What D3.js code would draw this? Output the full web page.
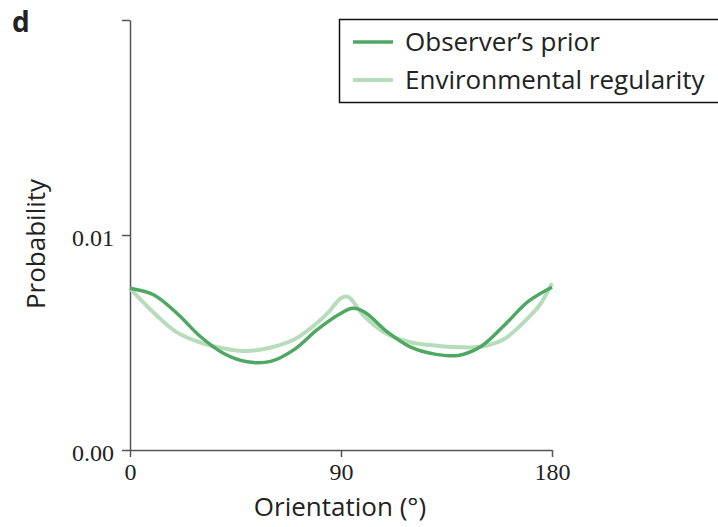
<!DOCTYPE html>
<html>
<head>
<meta charset="utf-8">
<title>Orientation prior</title>
<style>
  body { margin: 0; background: #fff; }
  svg text { fill: #222; }
</style>
</head>
<body>
<script src="https://cdn.jsdelivr.net/npm/d3@7/dist/d3.min.js"></script>
<script>
// values
var priorAngle = [0, 10, 20, 30, 40, 50, 60, 70, 80, 90, 95, 100, 110, 120, 130, 140, 150, 160, 170, 180];
var priorProb  = [0.00752, 0.00722, 0.00636, 0.00528, 0.00449, 0.00410, 0.00412, 0.00467, 0.00561, 0.00636,
                  0.00659, 0.00642, 0.00547, 0.00477, 0.00446, 0.00440, 0.00484, 0.00584, 0.00692, 0.00757];
var envAngle = [0, 10, 20, 30, 40, 50, 60, 70, 80, 85, 90, 93, 100, 110, 120, 130, 140, 150, 160, 170, 175, 180];
var envProb  = [0.00752, 0.00640, 0.00547, 0.00500, 0.00472, 0.00460, 0.00477, 0.00514, 0.00593, 0.00645,
                0.00706, 0.00712, 0.00621, 0.00537, 0.00500, 0.00486, 0.00478, 0.00481, 0.00519, 0.00617,
                0.00678, 0.00776];
var xTicks = [0, 90, 180];
var yTicks = [0, 0.01, 0.02];
var seriesNames = ["Observer\u2019s prior", "Environmental regularity"];
var seriesColors = ["#4ea863", "#b7dcbb"];

var width = 718, height = 527;
var svg = d3.select("body").append("svg")
  .attr("width", width)
  .attr("height", height);

var x = d3.scaleLinear().domain([0, 180]).range([130, 552]);
var y = d3.scaleLinear().domain([0, 0.02]).range([450, 20]);

// axes
var xAxis = d3.axisBottom(x).tickValues(xTicks).tickSize(7).tickSizeOuter(0).tickPadding(6);
var yAxis = d3.axisLeft(y).tickValues(yTicks).tickSize(8).tickSizeOuter(0).tickPadding(8)
  .tickFormat(function(d) { return d === 0.02 ? "" : d3.format(".2f")(d); });

var gx = svg.append("g").attr("transform", "translate(0,450)").call(xAxis);
var gy = svg.append("g").attr("transform", "translate(130,0)").call(yAxis);

[gx, gy].forEach(function(g) {
  g.selectAll("path, line").attr("stroke", "#555").attr("stroke-width", 1.5);
  g.selectAll("text")
    .attr("font-family", "'Liberation Serif', serif")
    .attr("font-size", 24)
    .attr("fill", "#222");
});
gy.selectAll("text").attr("dy", "0.45em");

// lines
var line = d3.line()
  .x(function(d) { return x(d[0]); })
  .y(function(d) { return y(d[1]); })
  .curve(d3.curveCatmullRom.alpha(0.5));

var envData = envAngle.map(function(a, i) { return [a, envProb[i]]; });
var priorData = priorAngle.map(function(a, i) { return [a, priorProb[i]]; });

svg.append("path").datum(envData)
  .attr("d", line).attr("fill", "none")
  .attr("stroke", seriesColors[1]).attr("stroke-width", 4);
svg.append("path").datum(priorData)
  .attr("d", line).attr("fill", "none")
  .attr("stroke", seriesColors[0]).attr("stroke-width", 3.5);

// axis titles
svg.append("text")
  .attr("x", 340).attr("y", 516)
  .attr("text-anchor", "middle")
  .attr("font-family", "'Open Sans', sans-serif")
  .attr("font-size", 26)
  .text("Orientation (\u00b0)");

svg.append("text")
  .attr("transform", "translate(45,244) rotate(-90)")
  .attr("text-anchor", "middle")
  .attr("font-family", "'Open Sans', sans-serif")
  .attr("font-size", 26)
  .text("Probability");

// panel letter
svg.append("text")
  .attr("x", 12).attr("y", 32)
  .attr("font-family", "'Open Sans', sans-serif")
  .attr("font-weight", "bold")
  .attr("font-size", 28)
  .text("d");

// legend
var legend = svg.append("g");
legend.append("rect")
  .attr("x", 339.5).attr("y", 19.5)
  .attr("width", 400).attr("height", 83)
  .attr("fill", "#fff").attr("stroke", "#111").attr("stroke-width", 1.5);

var items = legend.selectAll("g.item")
  .data(seriesNames)
  .enter().append("g")
  .attr("class", "item")
  .attr("transform", function(d, i) { return "translate(0," + (42 + i * 38) + ")"; });

items.append("line")
  .attr("x1", 353).attr("x2", 393)
  .attr("stroke", function(d, i) { return seriesColors[i]; })
  .attr("stroke-width", function(d, i) { return i === 0 ? 3.5 : 4; });

items.append("text")
  .attr("x", 405).attr("y", 9)
  .attr("font-family", "'Open Sans', sans-serif")
  .attr("font-size", 26)
  .text(function(d) { return d; });
</script>
</body>
</html>
